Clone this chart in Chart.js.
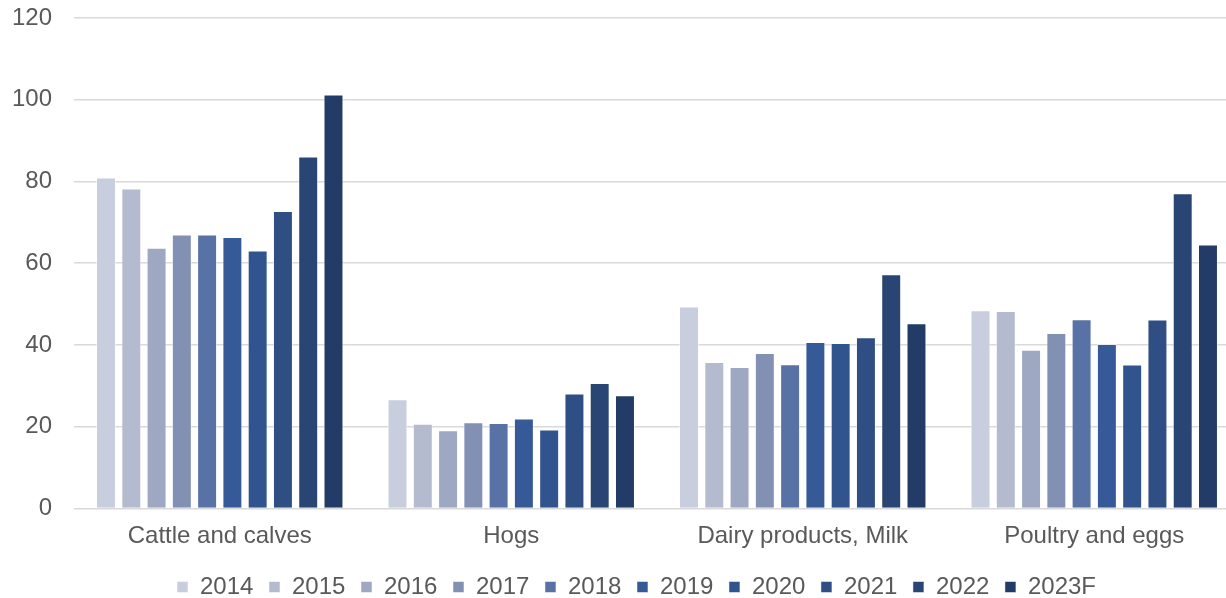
<!DOCTYPE html>
<html>
<head>
<meta charset="utf-8">
<script src="https://cdn.jsdelivr.net/npm/chart.js@4/dist/chart.umd.min.js"></script>
<style>
  html, body { margin: 0; padding: 0; background: #fff; overflow: hidden; }
  #box { width: 1240px; height: 598px; }
</style>
</head>
<body>
<div id="box"><canvas id="grafico"></canvas></div>
<script>
// categorias e anos
var categorias = ['Cattle and calves', 'Hogs', 'Dairy products, Milk', 'Poultry and eggs'];
var anos = ['2014', '2015', '2016', '2017', '2018', '2019', '2020', '2021', '2022', '2023F'];

// valores por ano (cattle, hogs, dairy, poultry)
var v2014 = [81.0, 26.7, 49.4, 48.5];
var v2015 = [78.3, 20.7, 35.8, 48.3];
var v2016 = [63.8, 19.1, 34.6, 38.8];
var v2017 = [67.0, 21.1, 38.0, 42.9];
var v2018 = [67.0, 20.9, 35.3, 46.3];
var v2019 = [66.4, 22.0, 40.7, 40.2];
var v2020 = [63.1, 19.3, 40.5, 35.2];
var v2021 = [72.8, 28.1, 41.9, 46.2];
var v2022 = [86.1, 30.7, 57.3, 77.1];
var v2023F = [101.3, 27.7, 45.3, 64.6];

var yTicks = [0, 20, 40, 60, 80, 100, 120];

var valores = [v2014, v2015, v2016, v2017, v2018, v2019, v2020, v2021, v2022, v2023F];
var cores = [
    '#C8CEDD',
    '#B4BBCF',
    '#9EA8C3',
    '#8290B4',
    '#5872A5',
    '#365A97',
    '#32548E',
    '#2F4E83',
    '#294574',
    '#223C67'
];

var datasets = [];
for (let i = 0; i < anos.length; i++) {
    datasets.push({
        label: anos[i],
        data: valores[i],
        backgroundColor: cores[i],
        borderColor: 'rgba(255,255,255,0.5)',
        borderWidth: 1,
        categoryPercentage: 0.867,
        barPercentage: 0.79
    });
}

// empurra a legenda um pouco (direita / baixo)
var moverLegenda = {
    id: 'moverLegenda',
    afterLayout: function(chart) {
        var l = chart.legend;
        l.left += 16.5; l.right += 16.5;
        l.top += 8; l.bottom += 8;
    }
};

var fonte = "'Liberation Sans', Arial, sans-serif";
var ctx = document.getElementById('grafico').getContext('2d');
window.myBar = new Chart(ctx, {
    type: 'bar',
    data: { labels: categorias, datasets: datasets },
    plugins: [moverLegenda],
    options: {
        responsive: true,
        maintainAspectRatio: false,
        animation: false,
        layout: { padding: { left: 0, right: 0, top: 0, bottom: -3 } },
        plugins: {
            tooltip: { enabled: false },
            legend: {
                position: 'bottom',
                labels: {
                    boxWidth: 11,
                    boxHeight: 11,
                    padding: 15.6,
                    color: '#595959',
                    font: { family: fonte, size: 24 }
                }
            }
        },
        scales: {
            x: {
                grid: { display: false, drawTicks: false },
                border: { display: false },
                afterFit: function(axis) { axis.height = 43; },
                ticks: { color: '#595959', padding: 14, font: { family: fonte, size: 24 } }
            },
            y: {
                min: 0,
                max: 120,
                afterBuildTicks: function(axis) {
                    axis.ticks = yTicks.map(function(v) { return { value: v }; });
                },
                afterFit: function(axis) {
                    axis.width = 74;
                    axis.paddingTop = 18;
                    axis.paddingBottom = 0;
                },
                grid: { color: '#D9D9D9', lineWidth: 1.5, drawTicks: false },
                border: { display: false },
                ticks: { color: '#595959', padding: 22, font: { family: fonte, size: 24 } }
            }
        }
    }
});
</script>
</body>
</html>
